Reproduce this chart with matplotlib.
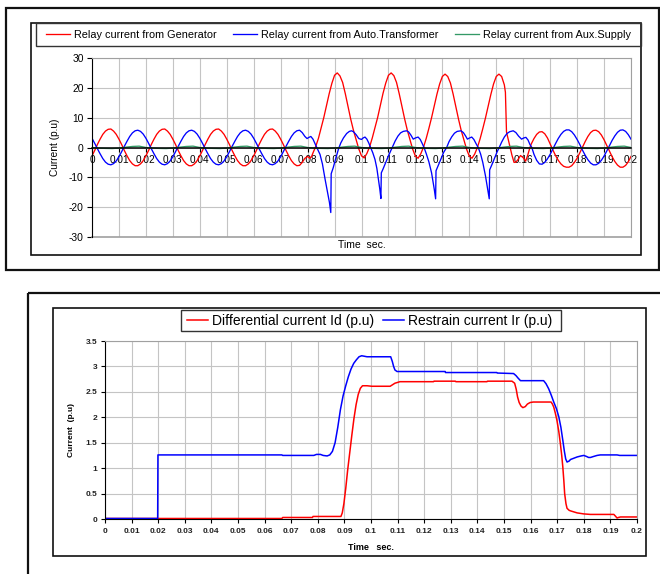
import numpy as np
import matplotlib
matplotlib.use("Agg")
import matplotlib.pyplot as plt
from matplotlib.patches import Rectangle

# ===================== DATA : top chart (time in ms, current in p.u) =====================
gen_pre_t = list(range(0, 77))
gen_pre_i = [-2.8, -1.0, 1.0, 2.8, 4.4, 5.5, 6.1, 6.2, 5.5, 4.4, 2.8, 1.0, -1.0, -2.8, -4.4, -5.5, -6.1, -6.1, -5.5, -4.4,
             -2.8, -1.0, 1.0, 2.8, 4.4, 5.5, 6.1, 6.2, 5.5, 4.4, 2.8, 1.0, -1.0, -2.8, -4.4, -5.5, -6.1, -6.1, -5.5, -4.4,
             -2.8, -1.0, 1.0, 2.8, 4.4, 5.5, 6.1, 6.2, 5.5, 4.4, 2.8, 1.0, -1.0, -2.8, -4.4, -5.5, -6.1, -6.1, -5.5, -4.4,
             -2.8, -1.0, 1.0, 2.8, 4.4, 5.5, 6.1, 6.2, 5.5, 4.4, 2.8, 1.0, -1.0, -2.8, -4.4, -5.5, -6.1]
gen_fault = [(77, -6.0), (78, -5.0), (79, -3.6), (80, -3.0), (80.8, -3.6), (81.5, -3.0), (82, -1.8),
             (83, 0.3), (84, 3.0), (85, 6.5), (86, 10.0), (87, 14.0), (88, 18.0), (89, 21.5), (90, 24.2),
             (91, 25.0), (92, 24.0), (93, 21.8), (94, 18.0), (95, 13.8), (96, 9.5), (97, 5.8), (98, 2.6),
             (99, -0.5), (100, -2.8), (101, -3.5), (102, -2.0),
             (103, 0.2), (104, 3.2), (105, 6.6), (106, 10.1), (107, 14.1), (108, 18.2), (109, 21.6), (110, 24.2),
             (111, 25.0), (112, 24.1), (113, 21.8), (114, 18.0), (115, 13.8), (116, 9.6), (117, 5.8), (118, 2.6),
             (119, -0.6), (120, -2.9), (121, -3.6), (122, -2.1),
             (123, 0.1), (124, 3.0), (125, 6.4), (126, 10.0), (127, 13.9), (128, 17.9), (129, 21.3), (130, 23.8),
             (131, 24.6), (132, 23.8), (133, 21.6), (134, 17.9), (135, 13.7), (136, 9.5), (137, 5.7), (138, 2.5),
             (139, -0.6), (140, -2.9), (141, -3.6), (142, -2.2),
             (143, 0.0), (144, 2.9), (145, 6.3), (146, 9.9), (147, 13.8), (148, 17.8), (149, 21.3), (150, 23.8),
             (151, 24.6), (152, 23.8), (153, 21.0), (153.4, 18.5), (153.8, 5.2), (154.5, 2.5), (155.2, -0.3),
             (155.8, -2.5), (156.6, -5.0), (157.3, -4.9), (158.1, -4.0), (159, -2.7), (160, -3.4), (160.9, -4.6),
             (161.7, -2.5), (162.5, 0.0)]
gen_post_t = list(range(163, 201))
gen_post_i = [1.2, 3.0, 4.4, 5.2, 5.3, 4.6, 3.2, 1.2, -0.8, -2.7, -4.3, -5.5, -6.3, -6.6, -6.6, -6.1, -5.0, -3.6,
              -1.8, 0.1, 2.0, 3.7, 5.0, 5.7, 5.8, 5.3, 4.2, 2.6, 0.7, -1.2, -3.1, -4.7, -5.9, -6.6, -6.6, -6.0,
              -4.8, -3.0]

auto_pre_t = list(range(0, 77))
auto_pre_i = [3.1, 1.4, -0.4, -2.1, -3.7, -4.9, -5.6, -5.8, -5.4, -4.5, -3.1, -1.4, 0.4, 2.1, 3.7, 4.9, 5.6, 5.8, 5.4, 4.5,
              3.1, 1.4, -0.4, -2.1, -3.7, -4.9, -5.6, -5.8, -5.4, -4.5, -3.1, -1.4, 0.4, 2.1, 3.7, 4.9, 5.6, 5.8, 5.4, 4.5,
              3.1, 1.4, -0.4, -2.1, -3.7, -4.9, -5.6, -5.8, -5.4, -4.5, -3.1, -1.4, 0.4, 2.1, 3.7, 4.9, 5.6, 5.8, 5.4, 4.5,
              3.1, 1.4, -0.4, -2.1, -3.7, -4.9, -5.6, -5.8, -5.4, -4.5, -3.1, -1.4, 0.4, 2.1, 3.7, 4.9, 5.6]
auto_fault = [(77, 5.8), (78, 5.0), (79, 3.7), (79.8, 3.0), (80.5, 3.4), (81.2, 3.7), (82, 2.8), (82.7, 1.4),
              (83.4, 0.0), (84.6, -2.3), (85.5, -5.5), (86.5, -10.7), (87.3, -14.5), (88.1, -18.4), (88.6, -21.8),
              (88.75, -8.8), (89.5, -6.8), (90.5, -3.5), (91.5, -0.4), (92.3, 1.5), (93.3, 3.2), (94.5, 4.7),
              (95.5, 5.4), (96.3, 5.6), (97, 5.3), (98, 4.3), (99, 3.0), (100, 2.7), (100.6, 3.2), (101.3, 3.5),
              (102, 2.8), (102.7, 1.5), (103.4, 0.0), (104.2, -1.8), (105, -4.0), (105.7, -7.0), (106.3, -10.7),
              (106.8, -14.0), (107.2, -17.1), (107.35, -8.5), (108, -7.2), (109, -5.0), (110, -2.8), (111.4, 0.0),
              (112.5, 2.2), (113.5, 3.8), (114.5, 4.9), (115.5, 5.4), (116.7, 5.6), (117.5, 5.2), (118.3, 4.2),
              (119.2, 2.8), (120, 3.2), (121, 3.5), (121.8, 2.7), (122.5, 1.4), (123.2, 0.0), (124, -2.0),
              (125, -4.8), (126, -8.5), (127, -14.0), (127.5, -17.2), (127.65, -7.8), (128.5, -6.0), (129.5, -3.8),
              (130.5, -1.6), (131.6, 0.0), (132.5, 2.0), (133.5, 3.6), (134.5, 4.8), (135.5, 5.4), (136.9, 5.6),
              (137.8, 5.0), (138.6, 3.9), (139.3, 2.8), (140.1, 3.2), (140.9, 3.5), (141.7, 2.7), (142.5, 1.3),
              (143.3, 0.0), (144.2, -2.2), (145, -5.0), (146, -9.5), (147, -15.0), (147.4, -17.2), (147.55, -7.5),
              (148.5, -5.5), (149.5, -3.3), (150.3, -1.5), (151.1, 0.0), (152, 1.8), (153, 3.5), (154, 4.7),
              (155, 5.3), (156.3, 5.6), (157.3, 5.0), (158.3, 3.8), (159.4, 2.8), (160.2, 3.2), (161, 3.4),
              (161.8, 2.5), (162.5, 1.0), (163.2, 0.0)]
auto_post_t = list(range(164, 201))
auto_post_i = [-2.3, -4.3, -5.5, -5.6, -5.0, -3.8, -2.3, -0.5, 1.3, 3.0, 4.4, 5.4, 5.9, 5.9, 5.3, 4.2, 2.7, 1.0,
               -0.9, -2.6, -4.1, -5.2, -5.8, -5.8, -5.3, -4.3, -2.9, -1.2, 0.6, 2.4, 3.9, 5.1, 5.8, 5.9, 5.4, 4.3, 2.8]

aux_t = list(np.arange(0, 200.1, 2.5))
aux_i = [0.0, -0.2, -0.3, -0.35, -0.2, 0.1, 0.35, 0.45,
         0.0, -0.2, -0.3, -0.35, -0.2, 0.1, 0.35, 0.45,
         0.0, -0.2, -0.3, -0.35, -0.2, 0.1, 0.35, 0.45,
         0.0, -0.2, -0.3, -0.35, -0.2, 0.1, 0.35, 0.45,
         0.0, -0.2, -0.3, -0.35, -0.2, 0.1, 0.35, 0.45,
         0.0, -0.2, -0.3, -0.35, -0.2, 0.1, 0.35, 0.45,
         0.0, -0.2, -0.3, -0.35, -0.2, 0.1, 0.35, 0.45,
         0.0, -0.2, -0.3, -0.35, -0.2, 0.1, 0.35, 0.45,
         0.0, -0.2, -0.3, -0.35, -0.2, 0.1, 0.35, 0.45,
         0.0, -0.2, -0.3, -0.35, -0.2, 0.1, 0.35, 0.45,
         0.0]

top_series = ["Relay current from Generator", "Relay current from Auto.Transformer", "Relay current from Aux.Supply"]
top_yticks = [-30, -20, -10, 0, 10, 20, 30]

# ===================== DATA : bottom chart (time in s, current in p.u) =====================
id_pts = [(0, 0.01), (0.0665, 0.01), (0.0668, 0.03), (0.078, 0.03), (0.0782, 0.05), (0.0887, 0.05),
          (0.0892, 0.12), (0.0898, 0.30), (0.0905, 0.60), (0.0912, 0.95), (0.0920, 1.30), (0.0928, 1.65),
          (0.0936, 1.98), (0.0944, 2.25), (0.0952, 2.45), (0.0960, 2.57), (0.0968, 2.62), (0.0985, 2.62),
          (0.1003, 2.61), (0.1072, 2.61), (0.1090, 2.67), (0.1109, 2.70), (0.1235, 2.70), (0.1237, 2.71),
          (0.1317, 2.71), (0.1319, 2.70), (0.1436, 2.70), (0.1438, 2.71), (0.1530, 2.71), (0.1540, 2.67),
          (0.1546, 2.55), (0.1551, 2.40), (0.1557, 2.29), (0.1564, 2.22), (0.1571, 2.19), (0.1580, 2.21),
          (0.1588, 2.26), (0.1598, 2.29), (0.1610, 2.30), (0.1677, 2.30), (0.1682, 2.26), (0.1687, 2.20),
          (0.1693, 2.08), (0.1699, 1.94), (0.1706, 1.72), (0.1712, 1.48), (0.1717, 1.25), (0.1721, 1.03),
          (0.1725, 0.75), (0.1728, 0.50), (0.1733, 0.30), (0.1737, 0.21), (0.1745, 0.17), (0.1750, 0.16),
          (0.1775, 0.12), (0.1800, 0.10), (0.1825, 0.09), (0.1913, 0.09), (0.1920, 0.05), (0.1925, 0.02),
          (0.1930, 0.03), (0.1938, 0.04), (0.2000, 0.04)]
ir_pts = [(0, 0.01), (0.0198, 0.01), (0.0199, 1.26), (0.0665, 1.26), (0.0668, 1.25), (0.0785, 1.25),
          (0.0795, 1.27), (0.0810, 1.27), (0.0820, 1.25), (0.0835, 1.24), (0.0845, 1.26), (0.0855, 1.33),
          (0.0865, 1.50), (0.0875, 1.80), (0.0885, 2.15), (0.0895, 2.42), (0.0905, 2.62), (0.0915, 2.80),
          (0.0925, 2.95), (0.0935, 3.06), (0.0945, 3.13), (0.0955, 3.19), (0.0965, 3.21), (0.0975, 3.20),
          (0.0985, 3.19), (0.1074, 3.19), (0.1080, 3.10), (0.1085, 3.00), (0.1090, 2.93), (0.1098, 2.90),
          (0.1279, 2.90), (0.1280, 2.88), (0.1473, 2.88), (0.1475, 2.87), (0.1536, 2.86), (0.1545, 2.82),
          (0.1553, 2.77), (0.1562, 2.72), (0.1649, 2.72), (0.1658, 2.66), (0.1668, 2.56), (0.1678, 2.43),
          (0.1687, 2.30), (0.1697, 2.17), (0.1706, 2.01), (0.1714, 1.80), (0.1721, 1.55), (0.1727, 1.33),
          (0.1732, 1.18), (0.1737, 1.12), (0.1745, 1.14), (0.1750, 1.17), (0.1765, 1.20), (0.1775, 1.22),
          (0.1790, 1.24), (0.1800, 1.25), (0.1810, 1.23), (0.1818, 1.21), (0.1825, 1.21), (0.1837, 1.23),
          (0.1850, 1.25), (0.1862, 1.26), (0.1925, 1.26), (0.1935, 1.25), (0.2000, 1.25)]
bottom_series = ["Differential current Id (p.u)", "Restrain current Ir (p.u)"]
bottom_yticks = [0, 0.5, 1, 1.5, 2, 2.5, 3, 3.5]
bottom_ytick_labels = ["0", "0.5", "1", "1.5", "2", "2.5", "3", "3.5"]

x_ticks = [i / 100 for i in range(21)]
x_tick_labels = ["0", "0.01", "0.02", "0.03", "0.04", "0.05", "0.06", "0.07", "0.08", "0.09", "0.1",
                 "0.11", "0.12", "0.13", "0.14", "0.15", "0.16", "0.17", "0.18", "0.19", "0.2"]

# ===================== assemble series =====================
t_gen = np.array(gen_pre_t + [p[0] for p in gen_fault] + gen_post_t, dtype=float) / 1000
i_gen = np.array(gen_pre_i + [p[1] for p in gen_fault] + gen_post_i)
t_auto = np.array(auto_pre_t + [p[0] for p in auto_fault] + auto_post_t, dtype=float) / 1000
i_auto = np.array(auto_pre_i + [p[1] for p in auto_fault] + auto_post_i)
t_aux = np.array(aux_t, dtype=float) / 1000
i_aux = np.array(aux_i)
t_id, v_id = np.array([p[0] for p in id_pts]), np.array([p[1] for p in id_pts])
t_ir, v_ir = np.array([p[0] for p in ir_pts]), np.array([p[1] for p in ir_pts])

# ===================== figure =====================
plt.rcParams['font.family'] = ['Liberation Sans', 'DejaVu Sans']
W, H = 660, 574
fig = plt.figure(figsize=(W / 100, H / 100), dpi=100)
fig.patch.set_facecolor('white')

bg = fig.add_axes([0, 0, 1, 1])
bg.set_xlim(0, W)
bg.set_ylim(H, 0)
bg.axis('off')


def frame(x0, y0, x1, y1, lw, ec='#111111'):
    bg.add_patch(Rectangle((x0, y0), x1 - x0, y1 - y0, fill=False, lw=lw, ec=ec, clip_on=False))


frame(6, 8, 659, 270, 1.6)
frame(31, 23, 641, 255, 1.2)
frame(36, 23, 641, 46, 1.0, '#333333')
frame(28, 293, 720, 640, 1.6)
frame(53, 308, 646, 556, 1.2)
frame(181, 310, 561, 331, 1.0, '#333333')


def axrect(x0, y0, x1, y1):
    return [x0 / W, 1 - y1 / H, (x1 - x0) / W, (y1 - y0) / H]


GRID = '#c4c4c4'
EDGE = '#a0a0a0'

# ---------------- top chart ----------------
ax1 = fig.add_axes(axrect(92, 58, 631, 237))
l1, = ax1.plot(t_gen, i_gen, color='#ff0000', lw=0.95)
l2, = ax1.plot(t_auto, i_auto, color='#0000ff', lw=0.95)
l3, = ax1.plot(t_aux, i_aux, color='#339966', lw=0.95)
ax1.set_xlim(0, 0.2)
ax1.set_ylim(-30, 30)
ax1.set_xticks(x_ticks)
ax1.set_xticklabels(x_tick_labels)
ax1.set_yticks(top_yticks)
ax1.set_yticklabels([str(v) for v in top_yticks])
ax1.grid(True, color=GRID, lw=0.8)
ax1.set_axisbelow(True)
for s in ('top', 'right'):
    ax1.spines[s].set_color(EDGE)
ax1.spines['left'].set_color('black')
ax1.spines['bottom'].set_position(('data', 0))
ax1.spines['bottom'].set_color('black')
ax1.spines['bottom'].set_linewidth(1.1)
ax1.axhline(-30, color=EDGE, lw=1.2, clip_on=False)
ax1.tick_params(axis='y', direction='out', length=3.5, width=0.8, pad=2.5, labelsize=7.4)
ax1.tick_params(axis='x', direction='out', length=3, width=0.8, pad=2.5, labelsize=7.2)
ax1.set_ylabel('Current (p.u)', fontsize=7.3)
ax1.yaxis.set_label_coords((55 - 92) / 539, 0.5)
ax1.yaxis.label.set_va('center')
ax1.set_xlabel('Time  sec.', fontsize=7.5)
ax1.xaxis.set_label_coords(0.5, (237 - 245) / 179)
ax1.xaxis.label.set_va('center')

fig.legend([l1, l2, l3], top_series, loc='center', mode='expand', ncol=3,
           bbox_to_anchor=(46 / W, 1 - 46 / H, 585 / W, 23 / H), frameon=False,
           fontsize=7.8, handlelength=2.2, handletextpad=0.35, borderpad=0, borderaxespad=0)

# ---------------- bottom chart ----------------
ax2 = fig.add_axes(axrect(105, 341, 637, 519))
m1, = ax2.plot(t_id, v_id, color='#ff0000', lw=1.1)
m2, = ax2.plot(t_ir, v_ir, color='#0000ff', lw=1.1)
ax2.set_xlim(0, 0.2)
ax2.set_ylim(0, 3.5)
ax2.set_xticks(x_ticks)
ax2.set_xticklabels(x_tick_labels)
ax2.set_yticks(bottom_yticks)
ax2.set_yticklabels(bottom_ytick_labels)
ax2.grid(True, color=GRID, lw=0.8)
ax2.set_axisbelow(True)
for s in ('top', 'right'):
    ax2.spines[s].set_color(EDGE)
ax2.spines['left'].set_color('black')
ax2.spines['bottom'].set_color('black')
ax2.tick_params(axis='both', direction='out', length=3, width=0.8, labelsize=6.0)
ax2.tick_params(axis='y', pad=2.5)
ax2.tick_params(axis='x', pad=3.5)
for lab in ax2.get_xticklabels() + ax2.get_yticklabels():
    lab.set_fontweight('bold')
    lab.set_color('#222222')
ax2.set_ylabel('Current  (p.u)', fontsize=6.0, fontweight='bold')
ax2.yaxis.set_label_coords((71.3 - 105) / 532, 0.5)
ax2.yaxis.label.set_va('center')
ax2.set_xlabel('Time   sec.', fontsize=6.5, fontweight='bold')
ax2.xaxis.set_label_coords(0.5, (519 - 547) / 178)
ax2.xaxis.label.set_va('center')

fig.legend([m1, m2], bottom_series, loc='center left', ncol=2,
           bbox_to_anchor=(187 / W, 1 - 320.5 / H), frameon=False,
           fontsize=10, handlelength=1.5, handletextpad=0.3, columnspacing=0.65,
           borderpad=0, borderaxespad=0)

fig.savefig('out.png', dpi=100, facecolor='white')
